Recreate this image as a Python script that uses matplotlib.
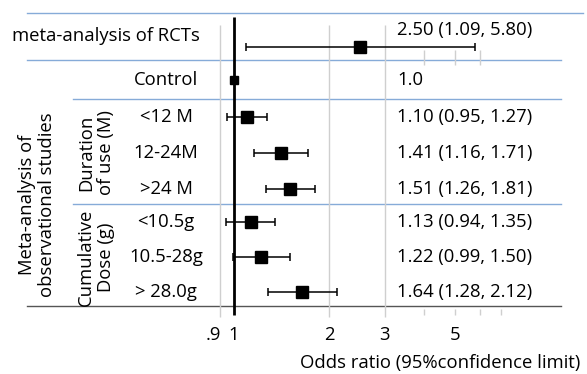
import matplotlib.pyplot as plt
import matplotlib.transforms as mtransforms
import numpy as np

plt.rcParams['font.family'] = ['Open Sans', 'DejaVu Sans']

# rows: label, odds ratio, lower, upper, text
row_labels = ["Control", "<12 M", "12-24M", ">24 M", "<10.5g", "10.5-28g", "> 28.0g"]
odds = [1.0, 1.10, 1.41, 1.51, 1.13, 1.22, 1.64]
lower = [1.0, 0.95, 1.16, 1.26, 0.94, 0.99, 1.28]
upper = [1.0, 1.27, 1.71, 1.81, 1.35, 1.50, 2.12]
value_text = ["1.0", "1.10 (0.95, 1.27)", "1.41 (1.16, 1.71)", "1.51 (1.26, 1.81)",
              "1.13 (0.94, 1.35)", "1.22 (0.99, 1.50)", "1.64 (1.28, 2.12)"]

rct_label = "meta-analysis of RCTs"
rct_or, rct_lo, rct_hi = 2.50, 1.09, 5.80
rct_text = "2.50 (1.09, 5.80)"

tick_vals = [0.9, 1, 2, 3, 5]
tick_labels = [".9", "1", "2", "3", "5"]
grid_vals = [0.9, 2, 3]
minor_vals = [4, 5, 6, 7]

# layout (y in pixel rows, figure 587x374)
W, H = 587, 374
x_one = 234.0      # pixel of OR=1
px_per_dec = 315.6
row_y = [80, 117, 153, 189, 222, 257, 292]
rct_y = 47

fig = plt.figure(figsize=(W / 100, H / 100), dpi=100)
ax = fig.add_axes([0, 0, 1, 1])
ax.set_xscale('log')
ax.set_xlim(10 ** ((0 - x_one) / px_per_dec), 10 ** ((W - x_one) / px_per_dec))
ax.set_ylim(H, 0)
ax.axis('off')

bt = mtransforms.blended_transform_factory(ax.transAxes, ax.transData)
fx = lambda p: p / W  # pixel x -> axes fraction

blue = '#86abd8'
grey = '#cfcfcf'
fs = 13.3

# horizontal separators
ax.axhline(13, fx(27), fx(583), color=blue, lw=1)
ax.axhline(60, fx(27), fx(561), color=blue, lw=1)
ax.axhline(99, fx(73), fx(561), color=blue, lw=1)
ax.axhline(204, fx(73), fx(561), color=blue, lw=1)
ax.axhline(306, fx(27), fx(561), color='#555555', lw=1)

# grid lines
ax.vlines(grid_vals, 25, 317, color=grey, lw=1)
ax.vlines(1, 17, 315, color='black', lw=2)
ax.vlines(minor_vals, 309, 315, color=grey, lw=1)
ax.vlines([4, 5, 6], 50, 65, color=grey, lw=1)

# RCT row
ax.errorbar(rct_or, rct_y, xerr=[[rct_or - rct_lo], [rct_hi - rct_or]], fmt='s',
            color='black', ms=9, capsize=3, elinewidth=1.1, capthick=1.1)
ax.text(fx(12), 36, rct_label, transform=bt, fontsize=fs, va='center', ha='left')
ax.text(fx(397), 30, rct_text, transform=bt, fontsize=fs, va='center', ha='left')

# observational rows
for i in range(len(row_labels)):
    o, lo, hi = odds[i], lower[i], upper[i]
    ms = 6 if i == 0 else 9
    ax.errorbar(o, row_y[i], xerr=[[o - lo], [hi - o]], fmt='s', color='black',
                ms=ms, capsize=3 if i > 0 else 0, elinewidth=1.1, capthick=1.1)
    ax.text(fx(166), row_y[i], row_labels[i], transform=bt, fontsize=fs,
            va='center', ha='center')
    ax.text(fx(397), row_y[i], value_text[i], transform=bt, fontsize=fs,
            va='center', ha='left')

# group labels
ax.text(fx(96), 153, "Duration\nof use (M)", transform=bt, fontsize=fs, rotation=90,
        va='center', ha='center', linespacing=1.1)
ax.text(fx(96), 257, "Cumulative\nDose (g)", transform=bt, fontsize=fs, rotation=90,
        va='center', ha='center', linespacing=1.1)
ax.text(fx(37), 205, "Meta-analysis of\nobservational studies", transform=bt,
        fontsize=fs, rotation=90, va='center', ha='center', linespacing=1.1)

# tick labels and axis title
for v, t in zip(tick_vals, tick_labels):
    ha = 'right' if t == ".9" else 'center'
    xx = v * 1.01 if t == ".9" else v
    ax.text(xx, 335, t, fontsize=fs, va='center', ha=ha)
ax.text(fx(440), 363, "Odds ratio (95%confidence limit)", transform=bt, fontsize=fs,
        va='center', ha='center')

fig.savefig('out.png', dpi=100)
